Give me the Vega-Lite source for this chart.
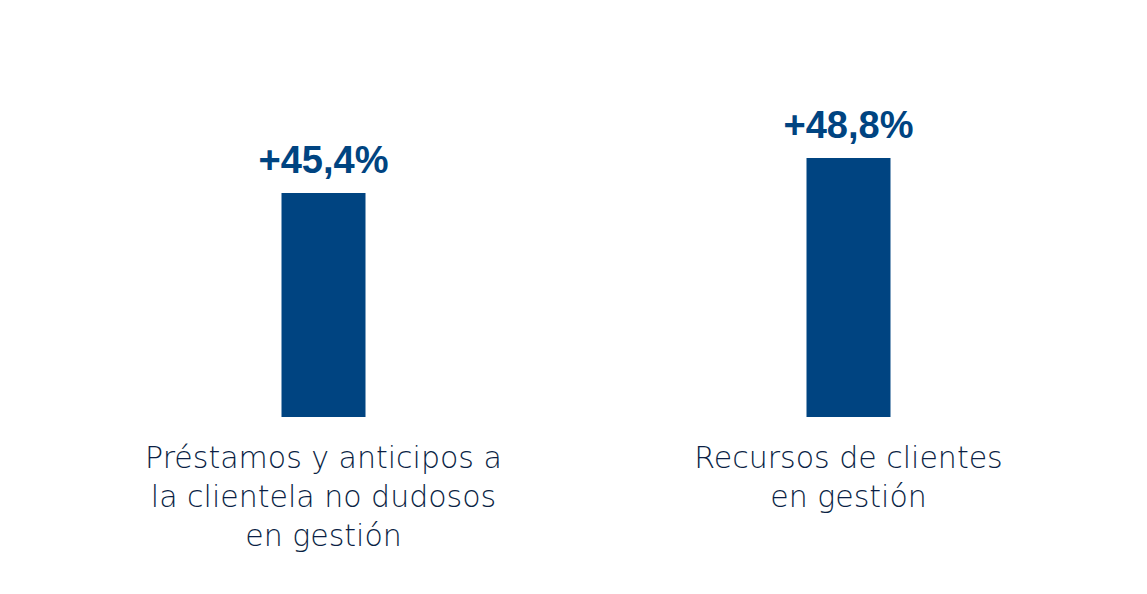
{
  "$schema": "https://vega.github.io/schema/vega-lite/v6.json",
  "width": 1050,
  "height": 357,
  "padding": {"left": 61, "top": 60, "right": 36, "bottom": 10},
  "background": "white",
  "config": {"view": {"stroke": null}},
  "data": {
    "values": [
      {"category": "Préstamos y anticipos a|la clientela no dudosos|en gestión", "value": 45.4, "label": "+45,4%"},
      {"category": "Recursos de clientes|en gestión", "value": 48.8, "label": "+48,8%"}
    ]
  },
  "encoding": {
    "x": {
      "field": "category",
      "type": "nominal",
      "sort": null,
      "scale": {"paddingInner": 0.84, "paddingOuter": 0.42},
      "axis": {
        "title": null,
        "domain": false,
        "ticks": false,
        "tickSize": 0,
        "labelAngle": 0,
        "labelExpr": "split(datum.label, '|')",
        "labelFont": "DejaVu Sans",
        "labelFontWeight": 300,
        "labelFontSize": 30,
        "labelColor": "#0b1f45",
        "labelBaseline": "alphabetic",
        "labelPadding": 50,
        "labelLineHeight": 39,
        "labelLimit": 600
      }
    },
    "y": {
      "field": "value",
      "type": "quantitative",
      "scale": {"domain": [23.6, 58.35], "zero": false, "nice": false},
      "axis": null
    }
  },
  "layer": [
    {"mark": {"type": "bar", "color": "#004481", "clip": true}},
    {
      "mark": {
        "type": "text",
        "font": "Liberation Sans",
        "fontWeight": "bold",
        "fontSize": 38,
        "color": "#004481",
        "baseline": "alphabetic",
        "dy": -20
      },
      "encoding": {"text": {"field": "label"}}
    }
  ]
}
